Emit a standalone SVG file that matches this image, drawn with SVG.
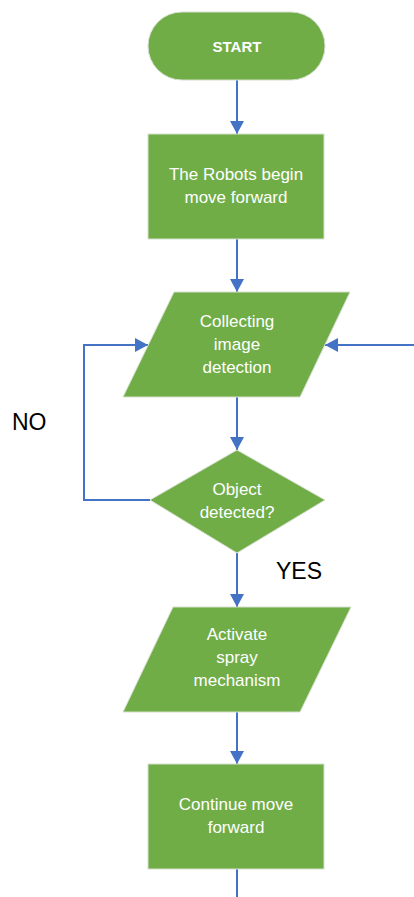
<svg xmlns="http://www.w3.org/2000/svg" width="414" height="897" viewBox="0 0 414 897">
<defs>
<marker id="arr" markerUnits="userSpaceOnUse" markerWidth="14" markerHeight="14" viewBox="0 0 14 14" refX="13" refY="7" orient="auto">
<path d="M0,0 L13,7 L0,14 Z" fill="#4472C4"/>
</marker>
</defs>
<style>
.shape{fill:#70AD47;stroke:#D6DFD0;stroke-width:1}
.t{font-family:"Liberation Sans",Arial,sans-serif;font-size:17px;fill:#FFFFFF;text-anchor:middle}
.lbl{font-family:"Liberation Sans",Arial,sans-serif;font-size:23px;fill:#000000}
.c{fill:none;stroke:#4472C4;stroke-width:2}
</style>
<rect width="414" height="897" fill="#FFFFFF"/>
<g id="connectors">
<line class="c" x1="237" y1="80" x2="237" y2="134" marker-end="url(#arr)"/>
<line class="c" x1="237" y1="239" x2="237" y2="292" marker-end="url(#arr)"/>
<line class="c" x1="237" y1="397" x2="237" y2="450" marker-end="url(#arr)"/>
<polyline class="c" points="150,500 84,500 84,345 148,345" marker-end="url(#arr)"/>
<line class="c" x1="414" y1="345" x2="325" y2="345" marker-end="url(#arr)"/>
<line class="c" x1="237" y1="553" x2="237" y2="607" marker-end="url(#arr)"/>
<line class="c" x1="237" y1="712" x2="237" y2="764" marker-end="url(#arr)"/>
<line class="c" x1="237" y1="869" x2="237" y2="897"/>
</g>
<g id="start">
<rect class="shape" x="148" y="12" width="177" height="68" rx="34" ry="34"/>
<text class="t" x="237" y="52" style="font-size:15px;font-weight:bold">START</text>
</g>
<g id="begin">
<rect class="shape" x="148" y="134" width="176" height="105"/>
<text class="t" x="236" y="180">The Robots begin</text>
<text class="t" x="236" y="203">move forward</text>
</g>
<g id="collect">
<polygon class="shape" points="174,292 350,292 300,397 123,397"/>
<text class="t" x="237" y="327">Collecting</text>
<text class="t" x="237" y="350">image</text>
<text class="t" x="237" y="373">detection</text>
</g>
<g id="decision">
<polygon class="shape" points="237,450 325,500 237,553 150,500"/>
<text class="t" x="237" y="495">Object</text>
<text class="t" x="237" y="518">detected?</text>
</g>
<g id="spray">
<polygon class="shape" points="173,607 351,607 300,712 123,712"/>
<text class="t" x="237" y="640">Activate</text>
<text class="t" x="237" y="663">spray</text>
<text class="t" x="237" y="686">mechanism</text>
</g>
<g id="continue">
<rect class="shape" x="148" y="764" width="176" height="105"/>
<text class="t" x="236" y="810">Continue move</text>
<text class="t" x="236" y="833">forward</text>
</g>
<text class="lbl" x="12" y="430">NO</text>
<text class="lbl" x="276" y="579">YES</text>
</svg>
